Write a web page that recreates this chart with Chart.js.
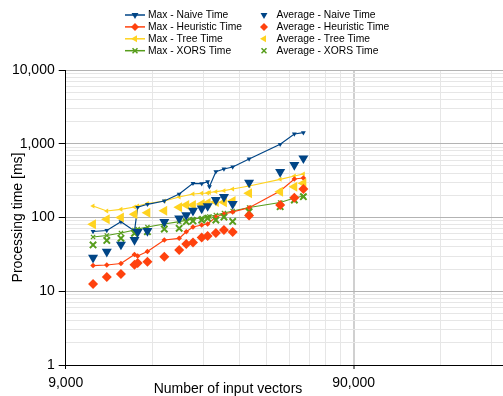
<!DOCTYPE html>
<html>
<head>
<meta charset="utf-8">
<script src="https://cdn.jsdelivr.net/npm/chart.js@4.4.1/dist/chart.umd.min.js"></script>
<style>
  html, body { margin: 0; padding: 0; background: #fff; }
  #wrap { width: 503px; height: 396px; position: relative; }
</style>
</head>
<body>
<div id="wrap"><canvas id="chart"></canvas></div>
<script>
// number of input vectors (x)
const inputSizes = [11200, 12500, 14000, 15600, 16000, 17300, 19800, 22300, 23600, 24900,
                    26700, 28000, 28400, 29900, 31900, 34200, 39000, 50000, 56000, 60200];

// processing time [ms]
const maxNaive     = [64.6, 66.6, 87.7, 65.6, 137.5, 151, 167.4, 208, null, 291,
                      288, 306, 262, 418, 455, 484, 621, 983, 1356, 1412];
const maxHeuristic = [22.3, 22.7, 23.8, 31.5, 30.1, 34.6, 49.5, 52.2, 64.2, 74.3,
                      79.1, 81.6, null, 101.6, 111.5, 118.7, 135.8, 228.7, 332.7, 343];
const maxTree      = [143.2, 122.5, 129.2, 138.8, 143.2, 154.8, 167.4, 189.7, null, 208.2,
                      212.9, 214.9, 218.3, 223.8, 230.9, 243.4, 267.4, 329.6, 365.3, 388.9];
const maxXors      = [54.4, 57.0, 61.6, 67.7, 69.8, 74.3, 81.6, 87.7, null, 95.4,
                      98.4, 101.6, 103.2, 108.1, 115.1, 122.5, 136.6, 159.7, 183.8, 195.6];

const avgNaive     = [28.5, 34.4, 43.0, 49.5, 63.6, 65.6, 86.9, 97.5, 108, 124,
                      133, 143, null, 173, 190, 153, 298, 414, 515, 635];
const avgHeuristic = [12.5, 15.6, 17.2, 22.9, 24.2, 25.2, 29.4, 36.3, 43.7, 45.8,
                      53.6, 56.1, null, 61.6, 67.7, 63.6, 106.4, 147.7, 185.5, 243.4];
const avgTree      = [80.9, 94.5, 100, 110.5, null, 116.2, 123.7, 137.5, 147.7, 147.7,
                      152.5, 157.3, null, 162.3, 160.6, 167.4, 212.9, 223.8, 261.6, 290.9];
const avgXors      = [42.4, 48.8, 52.2, 61.1, null, 64.2, 69.8, 71.4, 87.7, 89.7,
                      92.5, 97.5, null, 92.5, 101.6, 88.3, 119.8, 140.1, 172.7, 191.4];

const xTicks = [9000, 18000, 27000, 36000, 45000, 54000, 63000, 72000, 81000, 90000, 180000, 270000];
const xLabels = [9000, 90000];

const BLUE = '#004586', RED = '#ff420e', YELLOW = '#ffd320', GREEN = '#579d1c';
const FONT = '"Liberation Sans", Arial, sans-serif';

function pts(vals) {
    return inputSizes.map((x, i) => ({ x: x, y: vals[i] })).filter(p => p.y !== null);
}

const styles = {
    naive: { pointStyle: 'triangle', rotation: 180 },
    heuristic: { pointStyle: 'rectRot', rotation: 0 },
    tree: { pointStyle: 'triangle', rotation: 270 },
    xors: { pointStyle: 'crossRot', rotation: 0 }
};

function maxSet(label, vals, color, st, order) {
    return {
        label: label, data: pts(vals), showLine: true, order: order,
        borderColor: color, backgroundColor: color, borderWidth: 1.2,
        pointStyle: st.pointStyle, rotation: st.rotation,
        pointRadius: st.pointStyle === 'crossRot' ? 3 : 2.8,
        pointBorderWidth: st.pointStyle === 'crossRot' ? 1.3 : 0,
        pointBackgroundColor: color, pointBorderColor: color
    };
}
function avgSet(label, vals, color, st, order) {
    return {
        label: label, data: pts(vals), showLine: false, order: order,
        borderColor: color, backgroundColor: color,
        pointStyle: st.pointStyle, rotation: st.rotation,
        pointRadius: st.pointStyle === 'crossRot' ? 4.5 : (st.pointStyle === 'rectRot' ? 5 : 5.8),
        pointBorderWidth: st.pointStyle === 'crossRot' ? 2 : 0,
        pointBackgroundColor: color, pointBorderColor: color
    };
}

const datasets = [
    maxSet('Max - Naive Time', maxNaive, BLUE, styles.naive, 5),
    maxSet('Max - Heuristic Time', maxHeuristic, RED, styles.heuristic, 6),
    maxSet('Max - Tree Time', maxTree, YELLOW, styles.tree, 7),
    maxSet('Max - XORS Time', maxXors, GREEN, styles.xors, 8),
    avgSet('Average - Naive Time', avgNaive, BLUE, styles.naive, 1),
    avgSet('Average - Heuristic Time', avgHeuristic, RED, styles.heuristic, 2),
    avgSet('Average - Tree Time', avgTree, YELLOW, styles.tree, 3),
    avgSet('Average - XORS Time', avgXors, GREEN, styles.xors, 4)
];

function isPow10(v) {
    const l = Math.log10(v);
    return Math.abs(l - Math.round(l)) < 1e-9;
}

// legend in two columns + axis titles
const extras = {
    id: 'extras',
    afterDraw(chart) {
        const ctx = chart.ctx;
        ctx.save();
        ctx.font = '10.3px ' + FONT;
        ctx.textBaseline = 'middle';
        ctx.textAlign = 'left';
        chart.data.datasets.forEach((ds, i) => {
            const col = i < 4 ? 0 : 1;
            const y = 15 + (i % 4) * 11.9;
            const mx = col === 0 ? 135 : 264;
            if (col === 0) {
                ctx.strokeStyle = ds.borderColor;
                ctx.lineWidth = 1.5;
                ctx.beginPath();
                ctx.moveTo(125, y);
                ctx.lineTo(145, y);
                ctx.stroke();
            }
            ctx.fillStyle = ds.borderColor;
            ctx.strokeStyle = ds.borderColor;
            const cross = ds.pointStyle === 'crossRot';
            Chart.helpers.drawPoint(ctx, {
                pointStyle: ds.pointStyle, rotation: ds.rotation,
                radius: cross ? 3.5 : 4, borderWidth: cross ? 1.5 : 0
            }, mx, y);
            ctx.fillStyle = '#000';
            ctx.fillText(ds.label, col === 0 ? 148 : 276.5, y + 0.5);
        });

        ctx.font = '14px ' + FONT;
        ctx.fillStyle = '#000';
        ctx.textAlign = 'center';
        ctx.fillText('Number of input vectors', 228, 389.5);
        ctx.translate(18, 217.5);
        ctx.rotate(-Math.PI / 2);
        ctx.fillText('Processing time [ms]', 0, 0);
        ctx.restore();
    }
};

new Chart(document.getElementById('chart'), {
    type: 'scatter',
    data: { datasets: datasets },
    options: {
        responsive: true,
        maintainAspectRatio: false,
        animation: false,
        devicePixelRatio: 1,
        layout: { autoPadding: false, padding: { top: 70, left: 0, right: 0, bottom: 0 } },
        plugins: { legend: { display: false }, tooltip: { enabled: false } },
        scales: {
            x: {
                type: 'logarithmic',
                min: 9000,
                max: 297000,
                afterFit: s => { s.height = 31; },
                afterBuildTicks: s => { s.ticks = xTicks.map(v => ({ value: v })); },
                border: { color: '#000', width: 1 },
                grid: {
                    color: c => c.tick && c.tick.value === 90000 ? '#d0d0d0' : '#e6e6e6',
                    lineWidth: c => c.tick && c.tick.value === 90000 ? 2 : 1,
                    tickColor: c => c.tick && xLabels.includes(c.tick.value) ? '#000' : 'rgba(0,0,0,0)',
                    tickLength: 4,
                    tickWidth: 1
                },
                ticks: {
                    autoSkip: false,
                    maxRotation: 0,
                    padding: 6,
                    color: '#000',
                    font: { family: FONT, size: 14 },
                    callback: v => xLabels.includes(v) ? v.toLocaleString('en-US') : ''
                }
            },
            y: {
                type: 'logarithmic',
                min: 1,
                max: 10000,
                afterFit: s => { s.width = 65.7; },
                afterBuildTicks: s => {
                    const t = [];
                    for (let e = 0; e < 4; e++) {
                        for (let k = 1; k <= 9; k++) t.push({ value: k * Math.pow(10, e) });
                    }
                    t.push({ value: 10000 });
                    s.ticks = t;
                },
                border: { color: '#000', width: 1 },
                grid: {
                    color: c => c.tick && isPow10(c.tick.value) ? '#b3b3b3' : '#e6e6e6',
                    lineWidth: 1,
                    tickColor: c => c.tick && isPow10(c.tick.value) ? '#000' : 'rgba(0,0,0,0)',
                    tickLength: 7,
                    tickWidth: 1
                },
                ticks: {
                    autoSkip: false,
                    padding: 4,
                    color: '#000',
                    font: { family: FONT, size: 14 },
                    callback: v => isPow10(v) ? v.toLocaleString('en-US') : ''
                }
            }
        }
    },
    plugins: [extras]
});
</script>
</body>
</html>
